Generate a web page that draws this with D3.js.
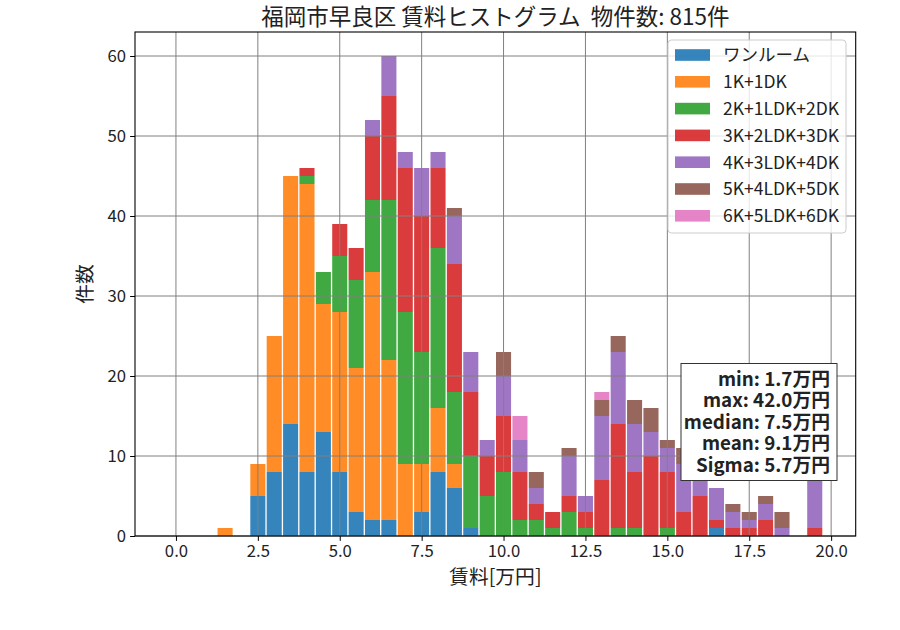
<!DOCTYPE html>
<html>
<head>
<meta charset="utf-8">
<script src="https://cdn.jsdelivr.net/npm/d3@7"></script>
<style>
  body { margin: 0; background: #fff; }
  text { font-family: "Noto Sans CJK JP", "Noto Sans", sans-serif; }
</style>
</head>
<body>
<div id="chart"></div>
<script>
"use strict";

// bin centres [万円] (bin width 0.5)
const binCenters = [0, 0.5, 1, 1.5, 2, 2.5, 3, 3.5, 4, 4.5, 5, 5.5, 6, 6.5, 7, 7.5, 8, 8.5, 9, 9.5,
  10, 10.5, 11, 11.5, 12, 12.5, 13, 13.5, 14, 14.5, 15, 15.5, 16, 16.5, 17, 17.5, 18, 18.5, 19, 19.5];

const categories = ["ワンルーム", "1K+1DK", "2K+1LDK+2DK", "3K+2LDK+3DK", "4K+3LDK+4DK", "5K+4LDK+5DK", "6K+5LDK+6DK"];

const oneRoom = [0, 0, 0, 0, 0, 5, 8, 14, 8, 13, 8, 3, 2, 2, 0, 3, 8, 6, 1, 0,
  0, 0, 0, 0, 0, 0, 0, 0, 0, 0, 0, 0, 0, 1, 0, 0, 0, 0, 0, 0];
const k1 = [0, 0, 0, 1, 0, 4, 17, 31, 36, 16, 20, 18, 31, 20, 9, 6, 8, 3, 0, 0,
  0, 0, 0, 0, 0, 0, 0, 0, 0, 0, 0, 0, 0, 0, 0, 0, 0, 0, 0, 0];
const k2 = [0, 0, 0, 0, 0, 0, 0, 0, 1, 4, 7, 11, 9, 20, 19, 14, 20, 9, 9, 5,
  8, 2, 2, 1, 3, 1, 0, 1, 1, 0, 1, 0, 0, 0, 0, 0, 0, 0, 0, 0];
const k3 = [0, 0, 0, 0, 0, 0, 0, 0, 1, 0, 4, 4, 8, 13, 18, 17, 10, 16, 8, 5,
  7, 6, 2, 2, 2, 2, 7, 13, 7, 10, 7, 3, 5, 1, 1, 1, 2, 0, 0, 1];
const k4 = [0, 0, 0, 0, 0, 0, 0, 0, 0, 0, 0, 0, 2, 5, 2, 6, 2, 6, 5, 2,
  5, 4, 2, 0, 5, 2, 8, 9, 6, 3, 3, 6, 4, 4, 2, 1, 2, 1, 0, 7];
const k5 = [0, 0, 0, 0, 0, 0, 0, 0, 0, 0, 0, 0, 0, 0, 0, 0, 0, 1, 0, 0,
  3, 0, 2, 0, 1, 0, 2, 2, 3, 3, 1, 2, 0, 0, 1, 1, 1, 2, 0, 0];
const k6 = [0, 0, 0, 0, 0, 0, 0, 0, 0, 0, 0, 0, 0, 0, 0, 0, 0, 0, 0, 0,
  0, 3, 0, 0, 0, 0, 1, 0, 0, 0, 0, 0, 0, 0, 0, 0, 0, 0, 0, 0];
const seriesValues = [oneRoom, k1, k2, k3, k4, k5, k6];

const xTicks = [0, 2.5, 5, 7.5, 10, 12.5, 15, 17.5, 20];
const yTicks = [0, 10, 20, 30, 40, 50, 60];

const titleText = "福岡市早良区 賃料ヒストグラム  物件数: 815件";
const xLabel = "賃料[万円]";
const yLabel = "件数";
const statLines = ["min: 1.7万円", "max: 42.0万円", "median: 7.5万円", "mean: 9.1万円", "Sigma: 5.7万円"];

const colors = ["#1f77b4", "#ff7f0e", "#2ca02c", "#d62728", "#9467bd", "#8c564b", "#e377c2"];

const rows = binCenters.map((c, i) => {
  const row = { bin: c };
  categories.forEach((k, j) => { row[k] = seriesValues[j][i]; });
  return row;
});

const svgWidth = 900;
const svgHeight = 630;
const plot = { left: 135, right: 855.7, top: 32, bottom: 536 };

const svg = d3.select("#chart")
  .append("svg")
  .attr("width", svgWidth)
  .attr("height", svgHeight)
;

const xScale = d3.scaleLinear().domain([-1.25, 20.75]).range([plot.left, plot.right]);
const yScale = d3.scaleLinear().domain([0, 63]).range([plot.bottom, plot.top]);
const color = d3.scaleOrdinal().domain(categories).range(colors);

const stacked = d3.stack().keys(categories)(rows);
const halfBar = 0.23;

svg.append("g")
  .selectAll("g")
  .data(stacked)
  .enter()
  .append("g")
  .attr("fill", d => color(d.key))
  .attr("fill-opacity", 0.9)
  .selectAll("rect")
  .data(d => d.filter(s => s[1] > s[0]))
  .enter()
  .append("rect")
  .attr("x", d => xScale(d.data.bin - halfBar))
  .attr("width", d => xScale(d.data.bin + halfBar) - xScale(d.data.bin - halfBar))
  .attr("y", d => yScale(d[1]))
  .attr("height", d => yScale(d[0]) - yScale(d[1]))
;

// grid (on top of bars, like the reference)
const grid = svg.append("g").attr("stroke", "#808080").attr("stroke-width", 1);
grid.selectAll("line.vx")
  .data(xTicks)
  .enter()
  .append("line")
  .attr("x1", d => xScale(d))
  .attr("x2", d => xScale(d))
  .attr("y1", plot.top)
  .attr("y2", plot.bottom)
;
grid.selectAll("line.hy")
  .data(yTicks)
  .enter()
  .append("line")
  .attr("x1", plot.left)
  .attr("x2", plot.right)
  .attr("y1", d => yScale(d))
  .attr("y2", d => yScale(d))
;

const xAxis = d3.axisBottom(xScale)
  .tickValues(xTicks)
  .tickFormat(d3.format(".1f"))
  .tickSize(4.9)
  .tickPadding(4)
;
const yAxis = d3.axisLeft(yScale)
  .tickValues(yTicks)
  .tickFormat(d3.format("d"))
  .tickSize(4.9)
  .tickPadding(4)
;

svg.append("g")
  .attr("transform", `translate(0, ${plot.bottom})`)
  .call(xAxis)
  .call(g => g.select(".domain").remove())
  .call(g => g.selectAll("text").attr("font-size", 16.7).attr("fill", "#222").attr("font-family", "Noto Sans CJK JP"))
;
svg.append("g")
  .attr("transform", `translate(${plot.left}, 0)`)
  .call(yAxis)
  .call(g => g.select(".domain").remove())
  .call(g => g.selectAll("text").attr("font-size", 16.7).attr("fill", "#222").attr("font-family", "Noto Sans CJK JP"))
;

svg.append("rect")
  .attr("x", plot.left)
  .attr("y", plot.top)
  .attr("width", plot.right - plot.left)
  .attr("height", plot.bottom - plot.top)
  .attr("fill", "none")
  .attr("stroke", "#000")
  .attr("stroke-width", 1.1)
;

svg.append("text")
  .attr("x", (plot.left + plot.right) / 2)
  .attr("y", 25)
  .attr("text-anchor", "middle")
  .attr("font-size", 22.5)
  .attr("fill", "#222")
  .style("white-space", "pre")
  .text(titleText)
;

svg.append("text")
  .attr("x", (plot.left + plot.right) / 2)
  .attr("y", 584)
  .attr("text-anchor", "middle")
  .attr("font-size", 19.8)
  .attr("fill", "#222")
  .text(xLabel)
;

svg.append("text")
  .attr("transform", `translate(92, ${(plot.top + plot.bottom) / 2}) rotate(-90)`)
  .attr("text-anchor", "middle")
  .attr("font-size", 19.8)
  .attr("fill", "#222")
  .text(yLabel)
;

// legend
const legend = svg.append("g").attr("transform", "translate(668, 40)");
legend.append("rect")
  .attr("width", 178)
  .attr("height", 193)
  .attr("rx", 3.5)
  .attr("fill", "#fff")
  .attr("fill-opacity", 0.8)
  .attr("stroke", "#cccccc")
  .attr("stroke-width", 1)
;
const item = legend.selectAll("g.item")
  .data(categories)
  .enter()
  .append("g")
  .attr("class", "item")
  .attr("transform", (d, i) => `translate(0, ${15 + i * 26.8})`)
;
item.append("rect")
  .attr("x", 7)
  .attr("y", -5.8)
  .attr("width", 35)
  .attr("height", 11.6)
  .attr("fill", d => color(d))
  .attr("fill-opacity", 0.9)
;
item.append("text")
  .attr("x", 55)
  .attr("y", 6.3)
  .attr("font-size", 17.5)
  .attr("fill", "#222")
  .text(d => d)
;

// stats box
const stats = svg.append("g");
stats.append("rect")
  .attr("x", 681)
  .attr("y", 363.5)
  .attr("width", 156)
  .attr("height", 117)
  .attr("fill", "#fff")
  .attr("stroke", "#333")
  .attr("stroke-width", 1)
;
stats.selectAll("text")
  .data(statLines)
  .enter()
  .append("text")
  .attr("x", 830)
  .attr("y", (d, i) => 385.5 + i * 21.5)
  .attr("text-anchor", "end")
  .attr("font-size", 18.8)
  .attr("font-weight", "bold")
  .attr("fill", "#222")
  .text(d => d)
;
</script>
</body>
</html>
